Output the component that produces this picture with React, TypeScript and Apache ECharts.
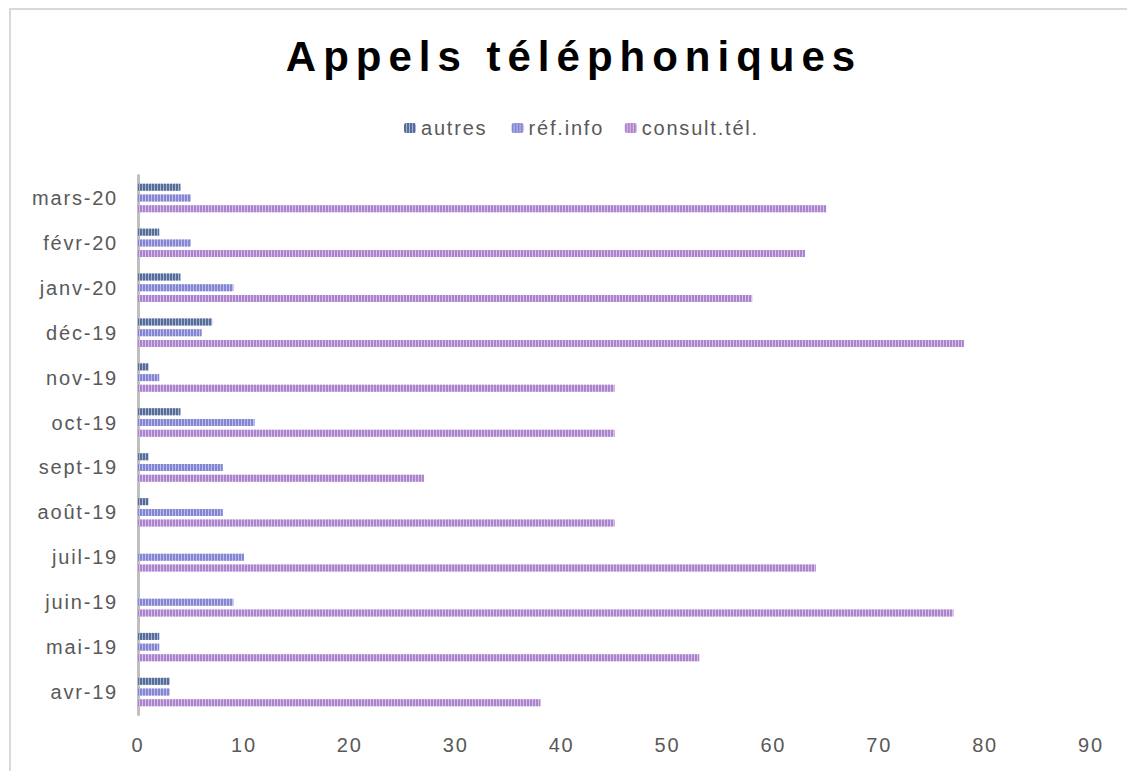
import React, { useEffect, useRef } from "react";
import * as echarts from "echarts";

const TITLE = "Appels téléphoniques";
const categories = ["avr-19", "mai-19", "juin-19", "juil-19", "août-19", "sept-19", "oct-19", "nov-19", "déc-19", "janv-20", "févr-20", "mars-20"];
const seriesNames = ["autres", "réf.info", "consult.tél."];
const autres = [3, 2, 0, 0, 1, 1, 4, 1, 7, 4, 2, 4];
const refInfo = [3, 2, 9, 10, 8, 8, 11, 2, 6, 9, 5, 5];
const consultTel = [38, 53, 77, 64, 45, 27, 45, 45, 78, 58, 63, 65];
const xTicks = [0, 10, 20, 30, 40, 50, 60, 70, 80, 90];

const FONT = '"Liberation Sans", Arial, sans-serif';
const light = ["#a7b2cf", "#bdbee9", "#d6c0e7"];
const dark = ["#566d9a", "#8586d3", "#ac84cd"];

export default function App() {
  const ref = useRef<HTMLDivElement>(null);
  useEffect(() => {
    if (!ref.current) return;
    const chart = echarts.init(ref.current, null, { renderer: "svg" });
    const values = [autres, refInfo, consultTel];
    const series = seriesNames.map((name, i) => ({
      name,
      type: "bar",
      data: values[i],
      barWidth: 7,
      barGap: "53%",
      itemStyle: {
        color: light[i],
        decal: {
          symbol: "rect",
          symbolSize: 1,
          dashArrayX: [2, 1],
          dashArrayY: [1, 0],
          rotation: 0,
          color: dark[i],
        },
      },
    }));
    chart.setOption({
      animation: false,
      textStyle: { fontFamily: FONT },
      graphic: [
        {
          type: "rect",
          shape: { x: 2, y: 1, width: 1123, height: 800 },
          style: { fill: "none", stroke: "#d9d9d9", lineWidth: 2 },
          silent: true,
        },
        {
          type: "text",
          x: 566,
          y: 48,
          style: {
            text: TITLE,
            font: `bold 42px ${FONT}`,
            fill: "#000000",
            align: "center",
            verticalAlign: "middle",
          },
        },
      ],
      legend: {
        data: seriesNames,
        left: 391,
        top: 105,
        itemWidth: 12,
        itemHeight: 10,
        itemGap: 35,
        textStyle: { color: "#595959", fontSize: 20, fontFamily: FONT },
      },
      grid: { left: 130, right: 44, top: 167.5, bottom: 56.5 },
      xAxis: {
        type: "value",
        min: xTicks[0],
        max: xTicks[xTicks.length - 1],
        interval: xTicks[1] - xTicks[0],
        splitLine: { show: false },
        axisLine: { show: false },
        axisTick: { show: false },
        axisLabel: { color: "#595959", fontSize: 20, margin: 20, fontFamily: FONT },
      },
      yAxis: {
        type: "category",
        data: categories,
        axisTick: { show: false },
        axisLine: { show: true, lineStyle: { color: "#bfbfbf", width: 3 } },
        axisLabel: { color: "#595959", fontSize: 20, margin: 20, fontFamily: FONT },
      },
      series,
    });
    const applySpacing = () => {
      const texts = ref.current?.querySelectorAll("text");
      if (!texts) return;
      texts.forEach((t) => {
        const el = t as SVGTextElement;
        if (el.textContent === TITLE) el.style.letterSpacing = "7px";
        else el.style.letterSpacing = "1.8px";
      });
    };
    applySpacing();
    chart.on("finished", applySpacing);
    const tm = setTimeout(applySpacing, 50);
    return () => {
      clearTimeout(tm);
      chart.dispose();
    };
  }, []);
  return <div ref={ref} style={{ width: 1127, height: 763 }} />;
}
